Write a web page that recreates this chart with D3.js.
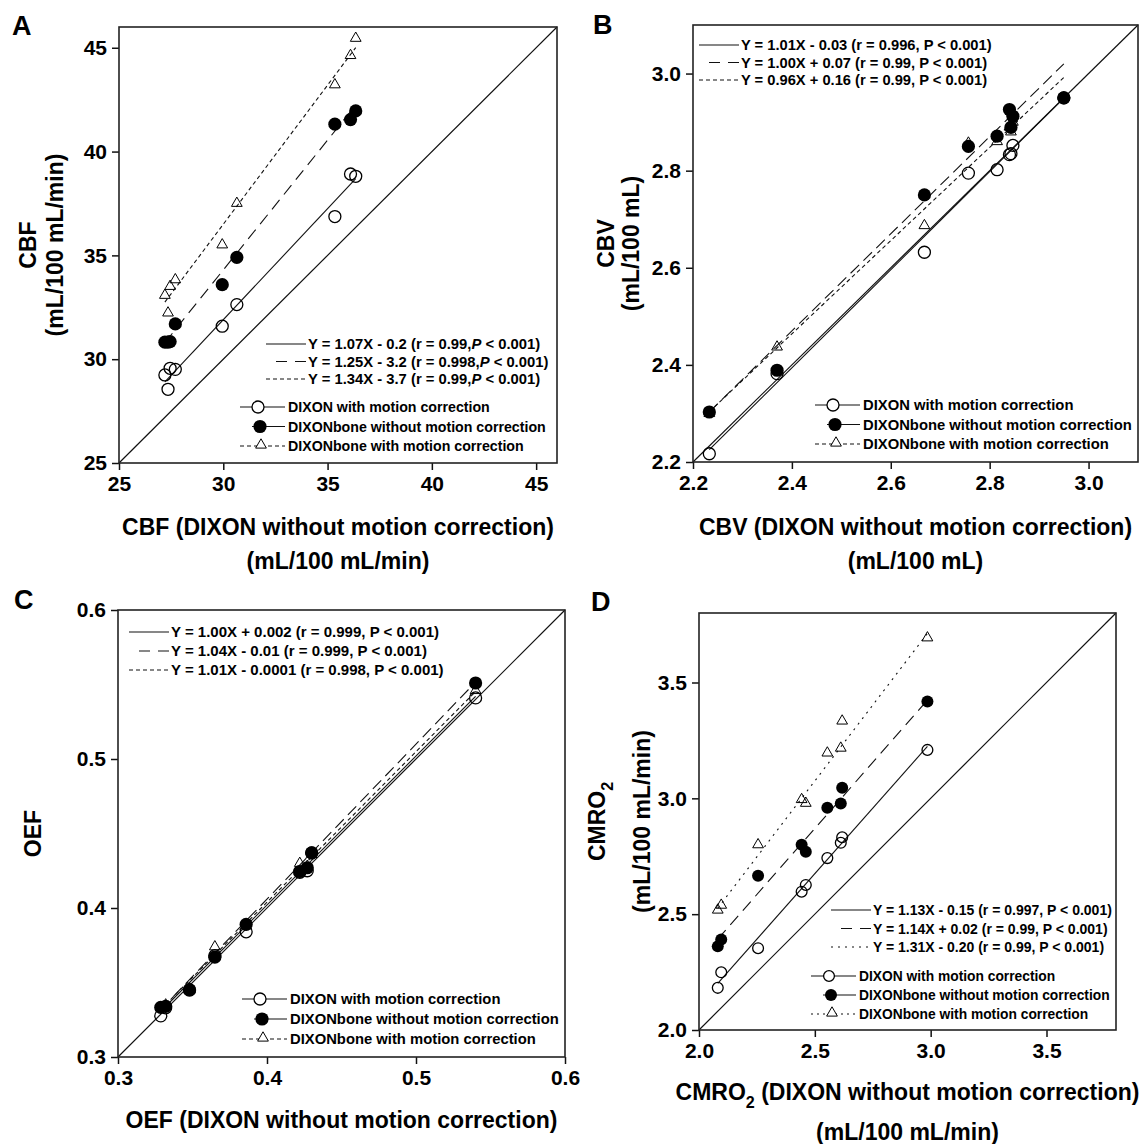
<!DOCTYPE html>
<html>
<head>
<meta charset="utf-8">
<title>DIXON vs DIXONbone, with and without motion correction</title>
<script src="https://cdn.jsdelivr.net/npm/d3@7"></script>
<style>
  body { margin: 0; background: #fff; }
  svg text { font-family: "Liberation Sans", Arial, Helvetica, sans-serif; font-weight: bold; fill: #000; }
</style>
</head>
<body>
<svg id="fig" width="1148" height="1144"></svg>
<script>
var FONT = '"Liberation Sans", Arial, Helvetica, sans-serif';

var seriesNames = ["DIXON with motion correction", "DIXONbone without motion correction", "DIXONbone with motion correction"];

// A - CBF
var cbfX      = [27.2, 27.35, 27.45, 27.7, 29.95, 30.65, 35.35, 36.1, 36.35];
var cbfOpen   = [29.24, 28.55, 29.56, 29.51, 31.59, 32.63, 36.87, 38.92, 38.81];
var cbfFilled = [30.82, 30.82, 30.85, 31.7, 33.59, 34.9, 41.32, 41.54, 41.96];
var cbfTri    = [33.08, 32.23, 33.51, 33.83, 35.51, 37.51, 43.22, 44.63, 45.46];
var cbfSlope  = [1.07, 1.25, 1.34];
var cbfIcpt   = [-0.2, -3.2, -3.7];
var cbfEq = ["Y = 1.07X - 0.2 (r = 0.99,P < 0.001)", "Y = 1.25X - 3.2 (r = 0.998,P < 0.001)", "Y = 1.34X - 3.7 (r = 0.99,P < 0.001)"];
var cbfTicks = [25, 30, 35, 40, 45];

// B - CBV
var cbvX      = [2.233, 2.37, 2.668, 2.757, 2.815, 2.840, 2.843, 2.847, 2.95];
var cbvOpen   = [2.217, 2.382, 2.632, 2.795, 2.802, 2.833, 2.835, 2.852, 2.95];
var cbvFilled = [2.303, 2.389, 2.750, 2.850, 2.871, 2.926, 2.889, 2.912, 2.95];
var cbvTri    = [2.300, 2.437, 2.687, 2.857, 2.860, 2.890, 2.880, 2.900, 2.95];
var cbvSlope  = [1.01, 1.00, 0.96];
var cbvIcpt   = [-0.03, 0.07, 0.16];
var cbvEq = ["Y = 1.01X - 0.03 (r = 0.996, P < 0.001)", "Y = 1.00X + 0.07 (r = 0.99, P < 0.001)", "Y = 0.96X + 0.16 (r = 0.99, P < 0.001)"];
var cbvTicks = [2.2, 2.4, 2.6, 2.8, 3.0];

// C - OEF
var oefX      = [0.3287, 0.332, 0.348, 0.365, 0.386, 0.422, 0.427, 0.430, 0.540];
var oefOpen   = [0.3276, 0.333, 0.345, 0.368, 0.384, 0.424, 0.425, 0.437, 0.541];
var oefFilled = [0.3333, 0.334, 0.345, 0.367, 0.389, 0.4245, 0.427, 0.437, 0.551];
var oefTri    = [0.333, 0.335, 0.346, 0.374, 0.388, 0.430, 0.428, 0.436, 0.546];
var oefSlope  = [1.00, 1.04, 1.01];
var oefIcpt   = [0.002, -0.01, -0.0001];
var oefEq = ["Y = 1.00X + 0.002 (r = 0.999, P < 0.001)", "Y = 1.04X - 0.01 (r = 0.999, P < 0.001)", "Y = 1.01X - 0.0001 (r = 0.998, P < 0.001)"];
var oefTicks = [0.3, 0.4, 0.5, 0.6];

// D - CMRO2
var cmroX      = [2.081, 2.096, 2.255, 2.443, 2.461, 2.554, 2.612, 2.618, 2.986];
var cmroOpen   = [2.182, 2.249, 2.353, 2.597, 2.626, 2.742, 2.808, 2.832, 3.209];
var cmroFilled = [2.361, 2.391, 2.666, 2.800, 2.769, 2.959, 2.978, 3.046, 3.418];
var cmroTri    = [2.518, 2.539, 2.800, 2.995, 2.979, 3.196, 3.217, 3.334, 3.693];
var cmroSlope  = [1.13, 1.14, 1.31];
var cmroIcpt   = [-0.15, 0.02, -0.20];
var cmroEq = ["Y = 1.13X - 0.15 (r = 0.997, P < 0.001)", "Y = 1.14X + 0.02 (r = 0.99, P < 0.001)", "Y = 1.31X - 0.20 (r = 0.99, P < 0.001)"];
var cmroTicks = [2.0, 2.5, 3.0, 3.5];

var panels = [
  { letter: "A", lx: 12, ly: 35, left: 119, right: 557, top: 27, bottom: 463, domain: [25, 46],
    ticks: cbfTicks, fmt: "d", xs: cbfX, ys: [cbfOpen, cbfFilled, cbfTri], slopes: cbfSlope, icpts: cbfIcpt,
    eqs: cbfEq, italicP: true, dashes: [null, "12,7", "4,3"], triDash: "4,3",
    yTitle: ["CBF", "(mL/100 mL/min)"], yTitleX: [28, 55],
    xTitle: ["CBF (DIXON without motion correction)", "(mL/100 mL/min)"], xTitleY: [527, 561],
    eqX: 308, eqY: 344, eqDy: 17.5, eqFont: 14.8, itX: 288, itY: 407, itDy: 19.5, itFont: 14.2, r: 6 },
  { letter: "B", lx: 593, ly: 34, left: 693, right: 1138, top: 25, bottom: 462, domain: [2.2, 3.1],
    ticks: cbvTicks, fmt: ".1f", xs: cbvX, ys: [cbvOpen, cbvFilled, cbvTri], slopes: cbvSlope, icpts: cbvIcpt,
    eqs: cbvEq, italicP: false, dashes: [null, "12,6", "4,3"], triDash: "4,3",
    yTitle: ["CBV", "(mL/100 mL)"], yTitleX: [606, 631],
    xTitle: ["CBV (DIXON without motion correction)", "(mL/100 mL)"], xTitleY: [527, 561],
    eqX: 741, eqY: 45, eqDy: 17.5, eqFont: 14.7, itX: 863, itY: 405, itDy: 19.5, itFont: 14.8, r: 6 },
  { letter: "C", lx: 14, ly: 609, left: 118, right: 565, top: 610, bottom: 1057, domain: [0.3, 0.6],
    ticks: oefTicks, fmt: ".1f", xs: oefX, ys: [oefOpen, oefFilled, oefTri], slopes: oefSlope, icpts: oefIcpt,
    eqs: oefEq, italicP: false, dashes: [null, "12,6", "4,3"], triDash: "4,3",
    yTitle: ["OEF"], yTitleX: [33],
    xTitle: ["OEF (DIXON without motion correction)"], xTitleY: [1120],
    eqX: 171, eqY: 632, eqDy: 19, eqFont: 15, itX: 290, itY: 999, itDy: 20, itFont: 14.8, r: 6 },
  { letter: "D", lx: 591, ly: 611, left: 699, right: 1116, top: 613, bottom: 1030, domain: [2.0, 3.8],
    ticks: cmroTicks, fmt: ".1f", xs: cmroX, ys: [cmroOpen, cmroFilled, cmroTri], slopes: cmroSlope, icpts: cmroIcpt,
    eqs: cmroEq, italicP: false, dashes: [null, "12,7", "2,5"], triDash: "2,4",
    yTitle: ["CMRO_2", "(mL/100 mL/min)"], yTitleX: [597, 642],
    xTitle: ["CMRO_2 (DIXON without motion correction)", "(mL/100 mL/min)"], xTitleY: [1092, 1132],
    eqX: 873, eqY: 910, eqDy: 18.5, eqFont: 14, itX: 859, itY: 976, itDy: 19, itFont: 13.8, r: 5.4 }
];

var svg = d3.select("#fig");
var triPath = d3.symbol().type(d3.symbolTriangle).size(50);

// text with "_2" written as a lowered subscript
function richText(sel, s) {
  var parts = s.split("_2");
  parts.forEach(function(t, i) {
    if (i > 0) {
      sel.append("tspan").attr("dy", 8).attr("font-size", "0.7em").text("2");
      sel.append("tspan").attr("dy", -8).text(t);
    } else {
      sel.append("tspan").text(t);
    }
  });
}

function marker(g, kind, cx, cy, r, bg) {
  if (kind === 0) {
    g.append("circle").attr("cx", cx).attr("cy", cy).attr("r", r)
      .attr("fill", bg).attr("stroke", "#000").attr("stroke-width", 1.3);
  } else if (kind === 1) {
    g.append("circle").attr("cx", cx).attr("cy", cy).attr("r", r + 0.6).attr("fill", "#000");
  } else {
    g.append("path").attr("d", triPath).attr("transform", "translate(" + cx + "," + cy + ")")
      .attr("fill", bg).attr("stroke", "#000").attr("stroke-width", 1);
  }
}

function drawPanel(p) {
  var x = d3.scaleLinear().domain(p.domain).range([p.left, p.right]);
  var y = d3.scaleLinear().domain(p.domain).range([p.bottom, p.top]);
  var g = svg.append("g");

  // line of identity
  g.append("line")
    .attr("x1", x(p.domain[0])).attr("y1", y(p.domain[0]))
    .attr("x2", x(p.domain[1])).attr("y2", y(p.domain[1]))
    .attr("stroke", "#111").attr("stroke-width", 1.2);

  // regression lines over the x range of the data
  var ext = d3.extent(p.xs);
  p.slopes.forEach(function(s, i) {
    g.append("line")
      .attr("x1", x(ext[0])).attr("y1", y(s * ext[0] + p.icpts[i]))
      .attr("x2", x(ext[1])).attr("y2", y(s * ext[1] + p.icpts[i]))
      .attr("stroke", "#111").attr("stroke-width", 1.1)
      .attr("stroke-dasharray", p.dashes[i]);
  });

  // points: open circles, triangles, then filled circles on top
  [0, 2, 1].forEach(function(k) {
    p.xs.forEach(function(v, i) {
      marker(g, k, x(v), y(p.ys[k][i]), p.r, "none");
    });
  });

  // axes
  var xa = g.append("g").attr("transform", "translate(0," + p.bottom + ")")
    .call(d3.axisBottom(x).tickValues(p.ticks).tickFormat(d3.format(p.fmt)).tickSize(7).tickPadding(6));
  var ya = g.append("g").attr("transform", "translate(" + p.left + ",0)")
    .call(d3.axisLeft(y).tickValues(p.ticks).tickFormat(d3.format(p.fmt)).tickSize(7).tickPadding(5));
  [xa, ya].forEach(function(a) {
    a.attr("font-size", 21).attr("font-family", FONT).attr("font-weight", "bold");
    a.select(".domain").remove();
    a.selectAll(".tick line").attr("stroke", "#111").attr("stroke-width", 1.5);
    a.selectAll(".tick text").attr("fill", "#000");
  });

  g.append("rect")
    .attr("x", p.left).attr("y", p.top)
    .attr("width", p.right - p.left).attr("height", p.bottom - p.top)
    .attr("fill", "none").attr("stroke", "#222").attr("stroke-width", 1.6);

  // panel letter
  g.append("text").attr("x", p.lx).attr("y", p.ly).attr("font-size", 27).text(p.letter);

  // axis titles
  var cx = (p.left + p.right) / 2, cy = (p.top + p.bottom) / 2;
  p.xTitle.forEach(function(t, i) {
    var tt = g.append("text").attr("x", cx).attr("y", p.xTitleY[i]).attr("dy", "0.36em")
      .attr("text-anchor", "middle").attr("font-size", 23);
    richText(tt, t);
  });
  p.yTitle.forEach(function(t, i) {
    var tt = g.append("text")
      .attr("transform", "translate(" + p.yTitleX[i] + "," + cy + ") rotate(-90)")
      .attr("dy", "0.36em").attr("text-anchor", "middle").attr("font-size", 23);
    richText(tt, t);
  });

  // regression equations
  p.eqs.forEach(function(s, i) {
    var ly = p.eqY + i * p.eqDy;
    var x0 = i === 1 ? p.eqX - 32 : p.eqX - 42;
    g.append("line").attr("x1", x0).attr("x2", p.eqX - 2).attr("y1", ly).attr("y2", ly)
      .attr("stroke", "#111").attr("stroke-width", 1.1)
      .attr("stroke-dasharray", i === 1 ? "11,8" : p.dashes[i]);
    var t = g.append("text").attr("x", p.eqX).attr("y", ly).attr("dy", "0.36em").attr("font-size", p.eqFont);
    var parts = s.split("P");
    t.append("tspan").text(parts[0]);
    t.append("tspan").attr("font-style", p.italicP ? "italic" : null).text("P");
    t.append("tspan").text(parts[1]);
  });

  // series legend
  seriesNames.forEach(function(name, k) {
    var ly = p.itY + k * p.itDy;
    var x0 = k === 1 ? p.itX - 36 : p.itX - 48;
    var mx = k === 0 ? p.itX - 30 : (k === 1 ? p.itX - 28 : p.itX - 27);
    g.append("line").attr("x1", x0).attr("x2", p.itX - 3).attr("y1", ly).attr("y2", ly)
      .attr("stroke", "#111").attr("stroke-width", 1.1)
      .attr("stroke-dasharray", k === 2 ? p.triDash : null);
    marker(g, k, mx, k === 2 ? ly - 1 : ly, p.r, "#fff");
    g.append("text").attr("x", p.itX).attr("y", ly).attr("dy", "0.36em")
      .attr("font-size", p.itFont).text(name);
  });
}

panels.forEach(drawPanel);
</script>
</body>
</html>
